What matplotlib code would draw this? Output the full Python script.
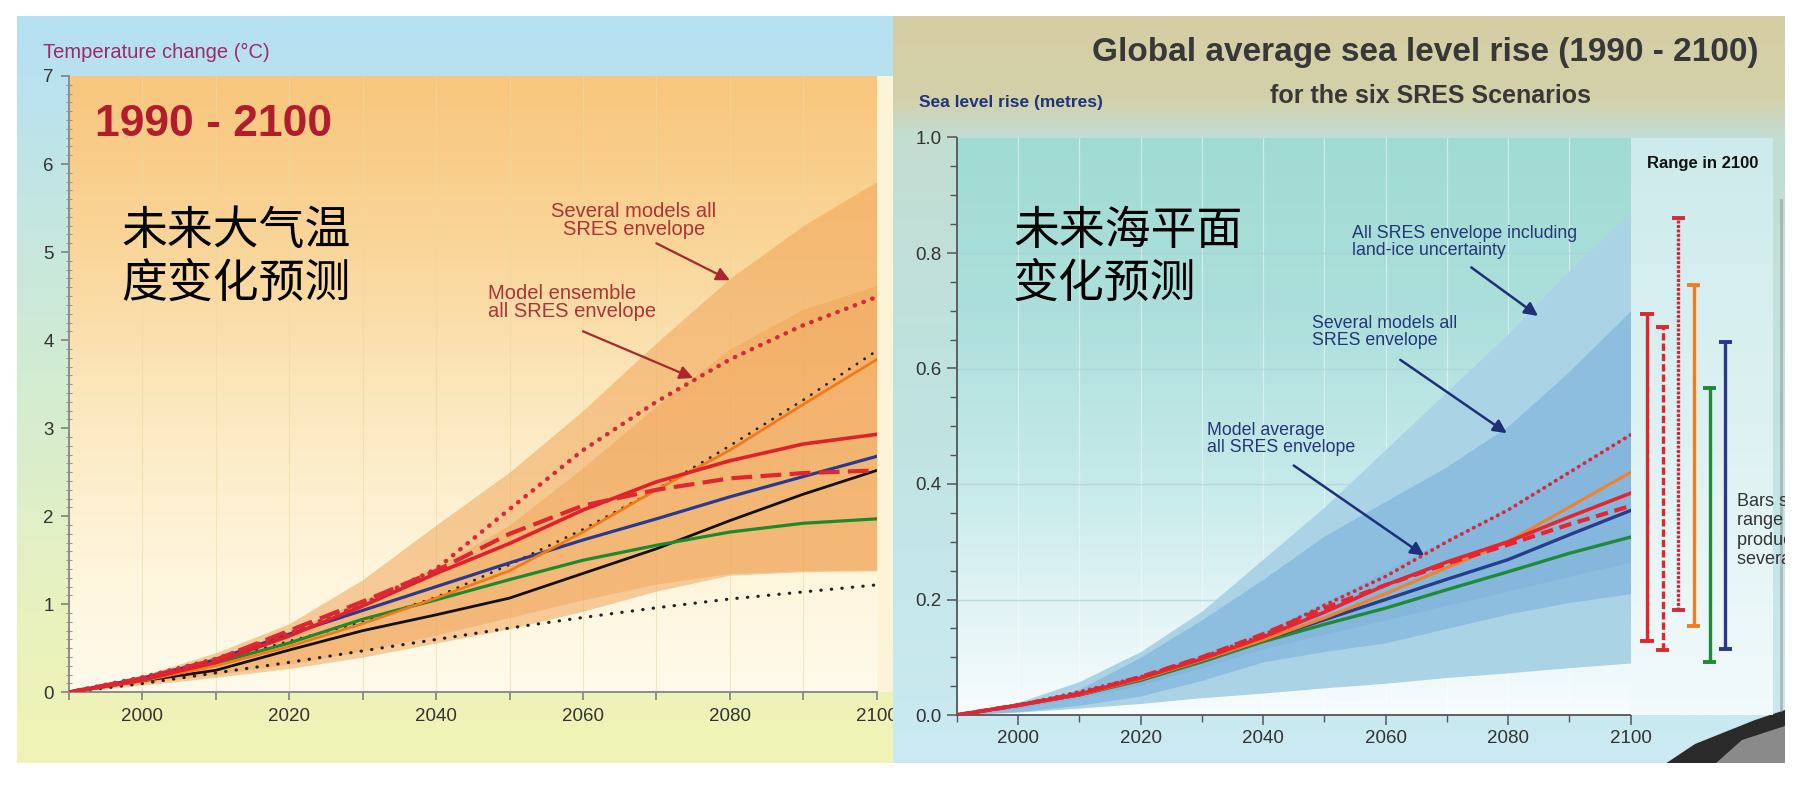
import numpy as np
import matplotlib
matplotlib.use("Agg")
import matplotlib.pyplot as plt
from matplotlib.colors import LinearSegmentedColormap
from matplotlib.ticker import MultipleLocator, FormatStrFormatter
from matplotlib.patches import Rectangle, Polygon

SANS = ['Liberation Sans', 'DejaVu Sans']
CJK = ['Noto Sans CJK SC', 'DejaVu Sans']

# ---------------- data ----------------
years = [1990, 2000, 2010, 2020, 2030, 2040, 2050, 2060, 2070, 2080, 2090, 2100]

# temperature change (deg C)
t_env_outer_lo = [0, 0.08, 0.17, 0.27, 0.40, 0.56, 0.72, 0.92, 1.15, 1.33, 1.37, 1.38]
t_env_outer_hi = [0, 0.19, 0.45, 0.78, 1.28, 1.90, 2.50, 3.20, 3.97, 4.70, 5.30, 5.80]
t_env_inner_lo = [0, 0.10, 0.20, 0.32, 0.47, 0.65, 0.85, 1.05, 1.23, 1.35, 1.38, 1.39]
t_env_inner_hi = [0, 0.17, 0.40, 0.70, 1.05, 1.42, 1.90, 2.55, 3.25, 3.90, 4.35, 4.62]
t_red_dotted = [0, 0.17, 0.38, 0.67, 1.00, 1.40, 2.08, 2.75, 3.30, 3.78, 4.17, 4.49]
t_black_dotted_hi = [0, 0.15, 0.35, 0.58, 0.80, 1.08, 1.45, 1.85, 2.30, 2.80, 3.32, 3.88]
t_orange = [0, 0.13, 0.30, 0.52, 0.78, 1.07, 1.38, 1.82, 2.30, 2.75, 3.27, 3.78]
t_red = [0, 0.14, 0.34, 0.64, 0.98, 1.35, 1.69, 2.07, 2.39, 2.63, 2.82, 2.93]
t_red_dashed = [0, 0.16, 0.37, 0.70, 1.03, 1.38, 1.80, 2.12, 2.30, 2.43, 2.49, 2.52]
t_blue = [0, 0.16, 0.37, 0.66, 0.93, 1.20, 1.47, 1.73, 1.97, 2.22, 2.45, 2.68]
t_green = [0, 0.15, 0.33, 0.56, 0.83, 1.05, 1.28, 1.50, 1.67, 1.82, 1.92, 1.97]
t_black = [0, 0.13, 0.25, 0.48, 0.70, 0.88, 1.07, 1.35, 1.63, 1.95, 2.25, 2.52]
t_black_dotted_lo = [0, 0.10, 0.22, 0.34, 0.47, 0.60, 0.73, 0.85, 0.96, 1.06, 1.14, 1.22]

# sea level rise (metres)
s_env_outer_lo = [0, 0.005, 0.012, 0.020, 0.030, 0.038, 0.047, 0.055, 0.065, 0.073, 0.082, 0.090]
s_env_outer_hi = [0, 0.022, 0.058, 0.110, 0.180, 0.270, 0.360, 0.460, 0.560, 0.660, 0.770, 0.870]
s_env_mid_lo = [0, 0.006, 0.017, 0.033, 0.060, 0.092, 0.110, 0.125, 0.150, 0.175, 0.195, 0.210]
s_env_mid_hi = [0, 0.015, 0.045, 0.100, 0.165, 0.235, 0.310, 0.370, 0.430, 0.500, 0.595, 0.700]
s_env_in_lo = [0, 0.012, 0.030, 0.052, 0.082, 0.115, 0.140, 0.165, 0.190, 0.215, 0.240, 0.265]
s_env_in_hi = [0, 0.020, 0.042, 0.070, 0.105, 0.145, 0.195, 0.250, 0.305, 0.360, 0.425, 0.490]
s_red_dotted = [0, 0.017, 0.040, 0.066, 0.100, 0.138, 0.190, 0.240, 0.300, 0.355, 0.420, 0.485]
s_orange = [0, 0.017, 0.035, 0.062, 0.095, 0.130, 0.168, 0.210, 0.255, 0.300, 0.360, 0.420]
s_red = [0, 0.017, 0.036, 0.064, 0.097, 0.135, 0.178, 0.225, 0.265, 0.300, 0.343, 0.384]
s_red_dashed = [0, 0.017, 0.037, 0.066, 0.100, 0.140, 0.185, 0.225, 0.262, 0.295, 0.330, 0.362]
s_blue = [0, 0.017, 0.035, 0.062, 0.095, 0.130, 0.165, 0.200, 0.235, 0.269, 0.312, 0.354]
s_green = [0, 0.017, 0.035, 0.060, 0.092, 0.127, 0.157, 0.185, 0.217, 0.248, 0.280, 0.308]

# range in 2100 bars
range_pos = [1, 2, 3, 4, 5, 6]
range_lo = [0.128, 0.112, 0.182, 0.154, 0.092, 0.114]
range_hi = [0.694, 0.671, 0.861, 0.745, 0.567, 0.646]
range_col = ['#E3242B', '#E3242B', '#D8283A', '#F47C20', '#1E8A3A', '#27378A']
range_ls = ['-', (0, (2.2, 0.9)), (0, (0.9, 0.45)), '-', '-', '-']

W, H = 1809, 791


def rect(x0, y0, x1, y1):
    return [x0 / W, 1 - y1 / H, (x1 - x0) / W, (y1 - y0) / H]


def vgrad(stops, n=256):
    cm = LinearSegmentedColormap.from_list('g', stops)
    return cm(np.linspace(0, 1, n))[:, None, :]


fig = plt.figure(figsize=(W / 100, H / 100), dpi=100, facecolor='white')

# ---------------- left panel background ----------------
bgL = fig.add_axes(rect(17, 16, 893, 763), zorder=0)
bgL.imshow(vgrad([(0, '#B4E0F3'), (0.08, '#B9E2EF'), (0.45, '#D0EBD4'),
                  (0.8, '#E9F2BE'), (1, '#F0F4B5')]),
           extent=(17, 893, 763, 16), origin='upper', aspect='auto')
bgL.add_patch(Rectangle((877, 76), 16, 616, color='#FBF4D6', lw=0))
bgL.set_xlim(17, 893)
bgL.set_ylim(763, 16)
bgL.axis('off')

# ---------------- left chart ----------------
axL = fig.add_axes(rect(68.9, 76, 876.7, 692.3), zorder=1)
axL.imshow(vgrad([(0, '#F8C67C'), (0.3, '#FAD79C'), (0.55, '#FCE9C0'),
                  (0.8, '#FEF5DC'), (1, '#FFFAEA')]),
           extent=(1990, 2100, 0, 7), origin='upper', aspect='auto', zorder=0)
for yr in years[1:-1]:
    axL.axvline(yr, color='#EADBA0', lw=0.8, alpha=0.6, zorder=0.5)
axL.fill_between(years, t_env_outer_lo, t_env_outer_hi, color='#F0A050',
                 alpha=0.5, lw=0, zorder=1)
axL.fill_between(years, t_env_inner_lo, t_env_inner_hi, color='#F0A050',
                 alpha=0.42, lw=0, zorder=1.1)

axL.plot(years, t_black_dotted_lo, color='#222222', lw=2.3,
         linestyle=(0, (0.1, 3.2)), dash_capstyle='round', zorder=3)
axL.plot(years, t_black_dotted_hi, color='#222222', lw=2.0,
         linestyle=(0, (0.1, 3.2)), dash_capstyle='round', zorder=3)
axL.plot(years, t_black, color='#111111', lw=2.0, zorder=3)
axL.plot(years, t_green, color='#1E8A2E', lw=2.3, zorder=3)
axL.plot(years, t_blue, color='#2A3A90', lw=2.3, zorder=3)
axL.plot(years, t_orange, color='#F27A18', lw=2.0, zorder=3)
axL.plot(years, t_red, color='#E0202A', lw=2.6, zorder=3.1)
axL.plot(years, t_red_dashed, color='#E0262E', lw=3.0,
         linestyle=(0, (5, 2)), zorder=3.1)
axL.plot(years, t_red_dotted, color='#D42A3A', lw=3.2,
         linestyle=(0, (0.1, 2.0)), dash_capstyle='round', zorder=3.1)

axL.set_xlim(1990, 2100)
axL.set_ylim(0, 7)
axL.set_xticks([2000, 2020, 2040, 2060, 2080, 2100])
axL.xaxis.set_minor_locator(MultipleLocator(10))
axL.yaxis.set_major_locator(MultipleLocator(1))
axL.yaxis.set_minor_locator(MultipleLocator(0.1))
for s in ['top', 'right']:
    axL.spines[s].set_visible(False)
for s in ['left', 'bottom']:
    axL.spines[s].set_color('#8C8C8C')
    axL.spines[s].set_linewidth(1.4)
axL.tick_params(which='major', direction='out', length=6, width=1.1,
                color='#777777', labelcolor='#333333', labelsize=13.5, pad=5)
axL.tick_params(axis='y', which='minor', direction='inout', length=4,
                width=0.8, color='#999999')
axL.tick_params(axis='x', which='minor', direction='out', length=6,
                width=1.1, color='#777777')
for lab in axL.get_xticklabels() + axL.get_yticklabels():
    lab.set_family(SANS)

ann_red = dict(arrowstyle='-|>', color='#A8282E', lw=1.6, mutation_scale=20,
               shrinkA=0, shrinkB=0)
axL.text(2066.9, 5.57, 'Several models all\nSRES envelope', family=SANS,
         fontsize=14.5, color='#AD3336', ha='center', va='top',
         linespacing=0.95, zorder=5)
axL.annotate('', xy=(2080.0, 4.68), xytext=(2070.0, 5.10),
             arrowprops=ann_red, zorder=5)
axL.text(2047.1, 4.64, 'Model ensemble\nall SRES envelope', family=SANS,
         fontsize=14.5, color='#AD3336', ha='left', va='top',
         linespacing=0.95, zorder=5)
axL.annotate('', xy=(2075.0, 3.57), xytext=(2060.0, 4.10),
             arrowprops=ann_red, zorder=5)

# ---------------- right panel background ----------------
bgR = fig.add_axes(rect(893, 16, 1785, 763), zorder=2)
bgR.imshow(vgrad([(0, '#D6CEA4'), (0.11, '#D3D1AA'), (0.16, '#C3DDD2'),
                  (0.5, '#BFE3E0'), (1, '#CBEAF3')]),
           extent=(893, 1785, 763, 16), origin='upper', aspect='auto')
bgR.add_patch(Polygon([(1665, 764), (1695, 744), (1725, 732), (1755, 720),
                       (1785, 710), (1785, 764)], closed=True,
                      color='#2A2A2A', lw=0))
bgR.add_patch(Polygon([(1715, 764), (1742, 740), (1785, 726), (1785, 764)],
                      closed=True, color='#8A8A8A', lw=0))
bgR.plot([1781, 1781], [200, 710], color='#9A9A9A', lw=2, alpha=0.6)
bgR.set_xlim(893, 1785)
bgR.set_ylim(763, 16)
bgR.axis('off')

# ---------------- right chart ----------------
axR = fig.add_axes(rect(957, 137.5, 1630.5, 715), zorder=3)
axR.imshow(vgrad([(0, '#A0DBD3'), (0.3, '#ACDFDB'), (0.6, '#C6EAEA'),
                  (0.85, '#E6F5F7'), (1, '#F7FCFD')]),
           extent=(1990, 2100, 0, 1), origin='upper', aspect='auto', zorder=0)
for yr in years[1:-1]:
    axR.axvline(yr, color='white', lw=0.9, alpha=0.45, zorder=0.5)
for yv in [0.2, 0.4, 0.6, 0.8]:
    axR.axhline(yv, color='#A9D2D6', lw=1.0, alpha=0.7, zorder=0.5)
axR.fill_between(years, s_env_outer_lo, s_env_outer_hi, color='#ABD3E6',
                 lw=0, zorder=1)
axR.fill_between(years, s_env_mid_lo, s_env_mid_hi, color='#8DBDDF',
                 lw=0, zorder=1.1)
axR.fill_between(years, s_env_in_lo, s_env_in_hi, color='#85B6DB',
                 lw=0, zorder=1.2)

axR.plot(years, s_green, color='#1F8A3A', lw=2.4, zorder=3)
axR.plot(years, s_blue, color='#283C8C', lw=2.4, zorder=3)
axR.plot(years, s_orange, color='#F58025', lw=2.2, zorder=3)
axR.plot(years, s_red, color='#E8252E', lw=2.6, zorder=3.1)
axR.plot(years, s_red_dashed, color='#E8252E', lw=3.0,
         linestyle=(0, (3, 1.6)), zorder=3.1)
axR.plot(years, s_red_dotted, color='#D8283A', lw=2.7,
         linestyle=(0, (0.1, 1.7)), dash_capstyle='round', zorder=3.1)

axR.set_xlim(1990, 2100)
axR.set_ylim(0, 1)
axR.set_xticks([2000, 2020, 2040, 2060, 2080, 2100])
axR.xaxis.set_minor_locator(MultipleLocator(10))
axR.yaxis.set_major_locator(MultipleLocator(0.2))
axR.yaxis.set_minor_locator(MultipleLocator(0.05))
axR.yaxis.set_major_formatter(FormatStrFormatter('%.1f'))
for s in ['top', 'right']:
    axR.spines[s].set_visible(False)
for s in ['left', 'bottom']:
    axR.spines[s].set_color('#555555')
    axR.spines[s].set_linewidth(1.3)
axR.tick_params(which='major', direction='out', length=7, width=1.1,
                color='#555555', labelcolor='#333333', labelsize=13.5, pad=4)
axR.tick_params(which='minor', direction='out', length=5, width=1.0,
                color='#555555')
for lab in axR.get_xticklabels() + axR.get_yticklabels():
    lab.set_family(SANS)

ann_blue = dict(arrowstyle='-|>', color='#1F2F7A', lw=1.8, mutation_scale=20,
                shrinkA=0, shrinkB=0)
axR.text(2054.5, 0.848, 'All SRES envelope including\nland-ice uncertainty',
         family=SANS, fontsize=12.8, color='#25357A', ha='left', va='top',
         linespacing=1.0, zorder=5)
axR.annotate('', xy=(2084.9, 0.691), xytext=(2074.0, 0.775),
             arrowprops=ann_blue, zorder=5)
axR.text(2048.0, 0.692, 'Several models all\nSRES envelope', family=SANS,
         fontsize=12.8, color='#25357A', ha='left', va='top', linespacing=1.0,
         zorder=5)
axR.annotate('', xy=(2079.8, 0.488), xytext=(2062.4, 0.615),
             arrowprops=ann_blue, zorder=5)
axR.text(2030.85, 0.507, 'Model average\nall SRES envelope', family=SANS,
         fontsize=12.8, color='#25357A', ha='left', va='top', linespacing=1.0,
         zorder=5)
axR.annotate('', xy=(2066.3, 0.276), xytext=(2045.0, 0.432),
             arrowprops=ann_blue, zorder=5)

# ---------------- range in 2100 ----------------
axB = fig.add_axes(rect(1630.5, 137.5, 1772, 715), zorder=3)
axB.imshow(vgrad([(0, '#CDEBEC'), (0.5, '#DDF1F2'), (1, '#F2FAFB')]),
           extent=(-0.06, 9.0, 0, 1), origin='upper', aspect='auto', zorder=0)
for p, lo, hi, c, ls in zip(range_pos, range_lo, range_hi, range_col, range_ls):
    axB.plot([p, p], [lo, hi], color=c, lw=2.4, linestyle=ls,
             solid_capstyle='butt', dash_capstyle='butt', zorder=3)
    axB.hlines([lo, hi], p - 0.42, p + 0.42, color=c, lw=2.8, zorder=3)
axB.set_xlim(-0.06, 9.0)
axB.set_ylim(0, 1)
axB.axis('off')
axB.text(4.55, 0.955, 'Range in 2100', family=SANS, fontsize=12,
         weight='bold', color='#111111', ha='center', va='center')
bars_note = axB.text(6.77, 0.385,
                     'Bars show the\nrange in 2100\nproduced by\nseveral models',
                     family=SANS, fontsize=13, color='#333333', ha='left',
                     va='top', linespacing=1.2, clip_on=True, zorder=4)
bars_note.set_clip_box(bgR.bbox)

# ---------------- overlay texts (pixel coordinates) ----------------
ov = fig.add_axes([0, 0, 1, 1], zorder=10)
ov.set_xlim(0, W)
ov.set_ylim(H, 0)
ov.axis('off')
ov.text(43, 52, 'Temperature change (°C)', family=SANS, fontsize=14.5,
        color='#9B2A6A', ha='left', va='center')
ov.text(95, 124, '1990 - 2100', family=SANS, fontsize=32, weight='bold',
        color='#B01E2E', ha='left', va='center')
ov.text(121, 206, '未来大气温\n度变化预测', family=CJK, fontsize=33,
        weight='medium', color='black', ha='left', va='top', linespacing=1.12)
ov.text(1759, 52, 'Global average sea level rise (1990 - 2100)', family=SANS,
        fontsize=24, weight='bold', color='#383838', ha='right', va='center')
ov.text(1430, 96, 'for the six SRES Scenarios', family=SANS, fontsize=18,
        weight='bold', color='#383838', ha='center', va='center')
ov.text(919, 102, 'Sea level rise (metres)', family=SANS, fontsize=12.5,
        weight='bold', color='#22337A', ha='left', va='center')
ov.text(1013, 206, '未来海平面\n变化预测', family=CJK, fontsize=33,
        weight='medium', color='black', ha='left', va='top', linespacing=1.12)

fig.savefig('out.png', dpi=100, facecolor='white')
